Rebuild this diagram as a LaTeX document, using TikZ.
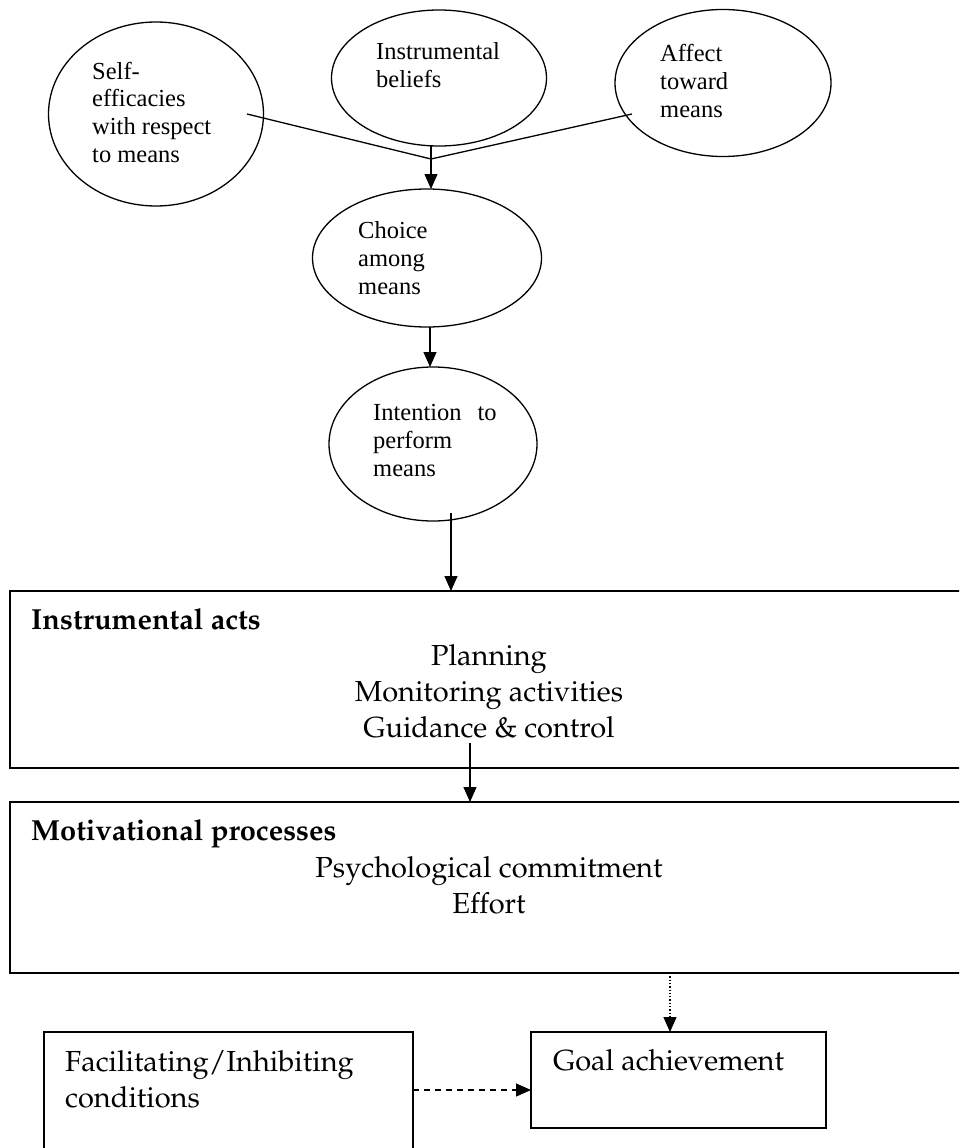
\documentclass[tikz,border=0pt]{standalone}
\usepackage{fontspec}
\setmainfont{Liberation Serif}
\usepackage[T1,TU]{fontenc}
\usetikzlibrary{shapes.geometric,arrows.meta,calc}
% Palatino-like face (URW Palladio, Type 1) for the box texts
\newcommand\boxface{\fontencoding{T1}\fontfamily{ppl}\selectfont}
\begin{document}
\begin{tikzpicture}[x=1pt,y=-1pt,
  oval/.style={ellipse,draw,line width=1.3pt,inner sep=0pt,outer sep=0pt},
  ovaltext/.style={anchor=base west,align=left,inner sep=0pt,
    font=\fontsize{24.5}{27.8}\selectfont},
  frame/.style={draw,line width=1.8pt,inner sep=0pt,outer sep=0pt,anchor=north west},
  boxtitle/.style={anchor=base west,inner sep=0pt,font=\boxface\fontsize{29}{36}\selectfont\bfseries},
  boxtext/.style={inner sep=0pt,font=\boxface\fontsize{29}{36}\selectfont},
  link/.style={line width=1.3pt},
  arr/.style={line width=1.3pt,-{Triangle[length=15pt,width=13pt]}}]
\path[use as bounding box,clip] (0,0) rectangle (959,1148);

% upper ovals
\node[oval,minimum width=215,minimum height=184] (se) at (156,114) {};
\node[oval,minimum width=215,minimum height=136] (ib) at (439,78) {};
\node[oval,minimum width=216,minimum height=147] (af) at (723,83) {};
\node[oval,minimum width=229,minimum height=138] (ch) at (427,258) {};
\node[oval,minimum width=208,minimum height=154] (it) at (433,444) {};

% oval labels, placed by the baseline of their last line
\node[ovaltext] (seT) at (92,162.5) {Self-\\efficacies\\with respect\\to means};
\node[ovaltext] (ibT) at (376,87.5) {Instrumental\\beliefs};
\node[ovaltext] (afT) at (660,117.5) {Affect\\toward\\means};
\node[ovaltext] (chT) at (358,294) {Choice\\among\\means};
\node[ovaltext] (itT) at (373,476) {Intention\hspace{16pt}to\\perform\\means};

% rectangles
\node[frame,minimum width=990,minimum height=177] (b1) at (10,591) {};
\node[frame,minimum width=990,minimum height=171] (b2) at (10,802) {};
\node[frame,minimum width=369,minimum height=140] (fac) at (44,1032) {};
\node[frame,minimum width=295,minimum height=96] (goal) at (531,1032) {};

\node[boxtitle] (b1T) at (31,629) {Instrumental acts};
\node[boxtext,anchor=base,align=center] (b1L) at (489,737)
  {Planning\\Monitoring activities\\Guidance \& control};
\node[boxtitle] (b2T) at (31,840) {Motivational processes};
\node[boxtext,anchor=base,align=center] (b2L) at (489,913)
  {Psychological commitment\\Effort};
\node[boxtext,anchor=base west,align=left] (facT) at (65,1107)
  {Facilitating/Inhibiting\\conditions};
\node[boxtext,anchor=base west] (goalT) at (553,1070) {Goal achievement};

% connectors
\coordinate (j) at (431,159);
\coordinate (seEnd) at (247,114);
\coordinate (afEnd) at (632,114);
\draw[link] (seEnd) -- (j) -- (afEnd);
\draw[link] (ib.south -| j) -- (j);
\draw[arr] (j) -- (j |- ch.north);

\coordinate (c1) at (430,0);
\draw[arr] (ch.south -| c1) -- (it.north -| c1);

\coordinate (itEnd) at (451,513);
\draw[arr] (itEnd) -- (itEnd |- b1.north);

\coordinate (b1End) at (470,743);
\draw[arr] (b1End) -- (b1End |- b2.north);

\coordinate (d) at (670,1090);
\draw[arr,dotted] (b2.south -| d) -- (goal.north -| d);
\draw[arr,dash pattern=on 6pt off 5pt] (fac.east |- d) -- (goal.west |- d);
\end{tikzpicture}
\end{document}
